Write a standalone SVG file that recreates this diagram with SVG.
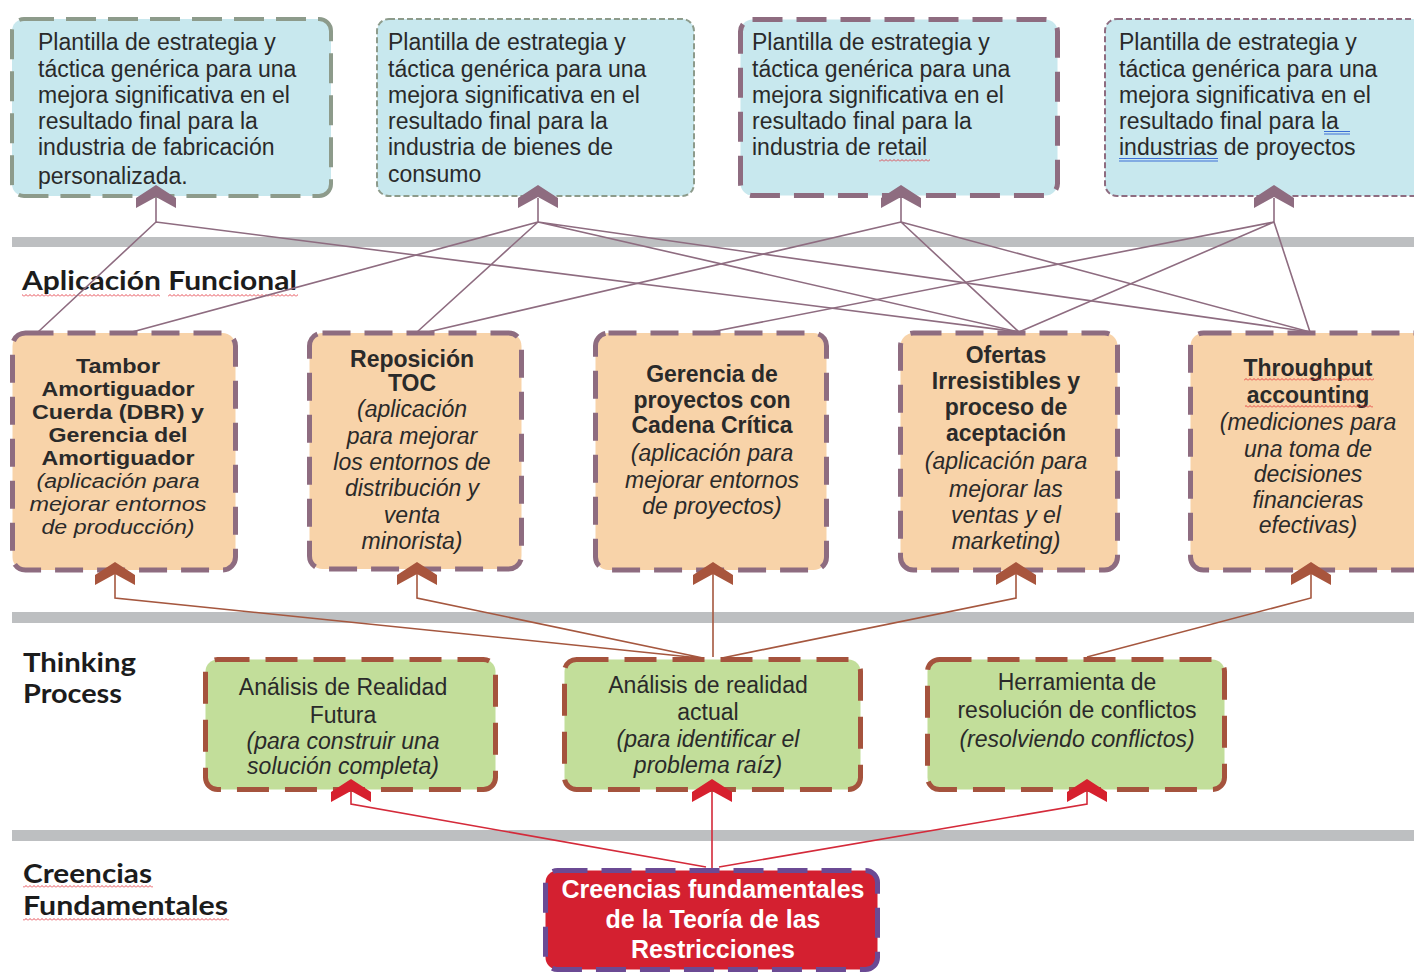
<svg xmlns="http://www.w3.org/2000/svg" width="1414" height="973" viewBox="0 0 1414 973">
<defs>
<style>
.t{font-family:"Liberation Sans",Arial,sans-serif;font-size:23px;fill:#2a2a2a}
.b{font-weight:bold}
.i{font-style:italic}
.c{text-anchor:middle}
.s{font-size:20px}
.lbl{font-family:Lato,"Open Sans",sans-serif;font-weight:bold;font-size:26px;fill:#1c1c1c}
.bar{fill:#bdbfc1}
.top{fill:#c8e8ee}
.fn{fill:#f8d3a9;stroke:#8e6c80;stroke-width:5;stroke-dasharray:28 14}
.tp{fill:#c2de9a;stroke:#a5533d;stroke-width:5;stroke-dasharray:32 16}
.lm{stroke:#8e6c80;stroke-width:1.6;fill:none}
.lb{stroke:#a5573f;stroke-width:1.6;fill:none}
.lr{stroke:#d42a3a;stroke-width:1.6;fill:none}
</style>
<path id="chev" d="M0,0 L20,13 L20,23 L0,12 L-20,23 L-20,13 Z"/>
<pattern id="wave" width="4" height="3" patternUnits="userSpaceOnUse"><path d="M0,2.5 L2,0.5 L4,2.5" fill="none" stroke="#e0202a" stroke-width="0.8"/></pattern>
</defs>
<rect width="1414" height="973" fill="#ffffff"/>

<g id="bars">
<rect class="bar" x="12" y="237" width="1402" height="10"/>
<rect class="bar" x="12" y="612" width="1402" height="11"/>
<rect class="bar" x="12" y="830" width="1402" height="11"/>
</g>

<g id="labels">
<text class="lbl" x="22" y="290" textLength="275" lengthAdjust="spacingAndGlyphs">Aplicación Funcional</text>
<rect x="22" y="294" width="138" height="3" fill="url(#wave)"/>
<rect x="168" y="294" width="130" height="3" fill="url(#wave)"/>
<text class="lbl" x="23" y="672" textLength="113" lengthAdjust="spacingAndGlyphs">Thinking</text>
<text class="lbl" x="23" y="703" textLength="99" lengthAdjust="spacingAndGlyphs">Process</text>
<text class="lbl" x="23" y="883" textLength="129" lengthAdjust="spacingAndGlyphs">Creencias</text>
<rect x="23" y="885" width="130" height="3" fill="url(#wave)"/>
<text class="lbl" x="23" y="915" textLength="205" lengthAdjust="spacingAndGlyphs">Fundamentales</text>
<rect x="23" y="918" width="206" height="3" fill="url(#wave)"/>
</g>

<g id="connectors">
<path class="lm" d="M156,198V222M538,198V222M901,198V222M1274,198V222"/>
<path class="lm" d="M156,222L38,332M156,222L1019,332"/>
<path class="lm" d="M538,222L132,332M538,222L417,332M538,222L1019,332M538,222L1310,332"/>
<path class="lm" d="M901,222L428,332M901,222L1019,332M901,222L1310,332"/>
<path class="lm" d="M1274,222L711,332M1274,222L1019,332M1274,222L1310,332"/>
<path class="lb" d="M115,574V598L700,658M417,574V598L703,658M713,574V657M1016,574V598L722,658M1311,574V598L1087,657"/>
<path class="lr" d="M351,792V804L706,867M712,792V868M1087,792V804L719,867"/>
</g>

<g id="top1">
<rect class="top" x="12" y="19" width="319" height="177" rx="12" stroke="#8d9b8b" stroke-width="4" stroke-dasharray="30 12"/>
<text class="t"><tspan x="38" y="50">Plantilla de estrategia y</tspan><tspan x="38" y="76.5">táctica genérica para una</tspan><tspan x="38" y="103">mejora significativa en el</tspan><tspan x="38" y="129">resultado final para la</tspan><tspan x="38" y="155">industria de fabricación</tspan><tspan x="38" y="184">personalizada.</tspan></text>
<use href="#chev" transform="translate(156,185)" fill="#8e6c80"/>
</g>
<g id="top2">
<rect class="top" x="377" y="19" width="317" height="177" rx="12" stroke="#8d9b8b" stroke-width="2" stroke-dasharray="6 3"/>
<text class="t"><tspan x="388" y="50">Plantilla de estrategia y</tspan><tspan x="388" y="76.5">táctica genérica para una</tspan><tspan x="388" y="103">mejora significativa en el</tspan><tspan x="388" y="129">resultado final para la</tspan><tspan x="388" y="155">industria de bienes de</tspan><tspan x="388" y="182">consumo</tspan></text>
<use href="#chev" transform="translate(538,185)" fill="#8e6c80"/>
</g>
<g id="top3">
<rect class="top" x="740.5" y="19.5" width="317" height="176" rx="12" stroke="#8e6c80" stroke-width="5" stroke-dasharray="30 14"/>
<text class="t"><tspan x="752" y="50">Plantilla de estrategia y</tspan><tspan x="752" y="76.5">táctica genérica para una</tspan><tspan x="752" y="103">mejora significativa en el</tspan><tspan x="752" y="129">resultado final para la</tspan><tspan x="752" y="155">industria de retail</tspan></text>
<rect x="879" y="159" width="51" height="3" fill="url(#wave)"/>
<use href="#chev" transform="translate(901,185)" fill="#8e6c80"/>
</g>
<g id="top4">
<rect class="top" x="1105" y="19" width="330" height="177" rx="12" stroke="#8e6c80" stroke-width="2" stroke-dasharray="6 3"/>
<text class="t"><tspan x="1119" y="50">Plantilla de estrategia y</tspan><tspan x="1119" y="76.5">táctica genérica para una</tspan><tspan x="1119" y="103">mejora significativa en el</tspan><tspan x="1119" y="129">resultado final para la</tspan><tspan x="1119" y="155">industrias de proyectos</tspan></text>
<path d="M1324,131.5H1350M1324,134H1350M1119,158.5H1218M1119,161H1218" stroke="#3c6fd6" stroke-width="1.2"/>
<use href="#chev" transform="translate(1274,185)" fill="#8e6c80"/>
</g>

<g id="fn1">
<rect class="fn" x="12.5" y="333" width="223" height="237" rx="13"/>
<text class="t s c"><tspan class="b" x="118" y="373" textLength="84" lengthAdjust="spacingAndGlyphs">Tambor</tspan><tspan class="b" x="118" y="396" textLength="153" lengthAdjust="spacingAndGlyphs">Amortiguador</tspan><tspan class="b" x="118" y="419" textLength="172" lengthAdjust="spacingAndGlyphs">Cuerda (DBR) y</tspan><tspan class="b" x="118" y="442" textLength="139" lengthAdjust="spacingAndGlyphs">Gerencia del</tspan><tspan class="b" x="118" y="465" textLength="153" lengthAdjust="spacingAndGlyphs">Amortiguador</tspan><tspan class="i" x="118" y="488" textLength="163" lengthAdjust="spacingAndGlyphs">(aplicación para</tspan><tspan class="i" x="118" y="511" textLength="177" lengthAdjust="spacingAndGlyphs">mejorar entornos</tspan><tspan class="i" x="118" y="534" textLength="153" lengthAdjust="spacingAndGlyphs">de producción)</tspan></text>
<use href="#chev" transform="translate(115,562)" fill="#a8553d"/>
</g>
<g id="fn2">
<rect class="fn" x="309.5" y="333" width="212" height="236" rx="13"/>
<text class="t c"><tspan class="b" x="412" y="367">Reposición</tspan><tspan class="b" x="412" y="391">TOC</tspan><tspan class="i" x="412" y="417">(aplicación</tspan><tspan class="i" x="412" y="444">para mejorar</tspan><tspan class="i" x="412" y="470">los entornos de</tspan><tspan class="i" x="412" y="496">distribución y</tspan><tspan class="i" x="412" y="523">venta</tspan><tspan class="i" x="412" y="549">minorista)</tspan></text>
<use href="#chev" transform="translate(417,562)" fill="#a8553d"/>
</g>
<g id="fn3">
<rect class="fn" x="595.5" y="333" width="231" height="237" rx="13"/>
<text class="t c"><tspan class="b" x="712" y="382">Gerencia de</tspan><tspan class="b" x="712" y="408">proyectos con</tspan><tspan class="b" x="712" y="433">Cadena Crítica</tspan><tspan class="i" x="712" y="461">(aplicación para</tspan><tspan class="i" x="712" y="488">mejorar entornos</tspan><tspan class="i" x="712" y="514">de proyectos)</tspan></text>
<use href="#chev" transform="translate(713,562)" fill="#a8553d"/>
</g>
<g id="fn4">
<rect class="fn" x="900.5" y="333" width="217" height="237" rx="13"/>
<text class="t c"><tspan class="b" x="1006" y="363">Ofertas</tspan><tspan class="b" x="1006" y="389">Irresistibles y</tspan><tspan class="b" x="1006" y="415">proceso de</tspan><tspan class="b" x="1006" y="441">aceptación</tspan><tspan class="i" x="1006" y="469">(aplicación para</tspan><tspan class="i" x="1006" y="497">mejorar las</tspan><tspan class="i" x="1006" y="523">ventas y el</tspan><tspan class="i" x="1006" y="549">marketing)</tspan></text>
<use href="#chev" transform="translate(1016,562)" fill="#a8553d"/>
</g>
<g id="fn5">
<rect class="fn" x="1190.5" y="333" width="260" height="237" rx="13"/>
<text class="t c"><tspan class="b" x="1308" y="376">Throughput</tspan><tspan class="b" x="1308" y="403">accounting</tspan><tspan class="i" x="1308" y="430">(mediciones para</tspan><tspan class="i" x="1308" y="457">una toma de</tspan><tspan class="i" x="1308" y="482">decisiones</tspan><tspan class="i" x="1308" y="508">financieras</tspan><tspan class="i" x="1308" y="533">efectivas)</tspan></text>
<rect x="1244" y="378" width="130" height="3" fill="url(#wave)"/>
<rect x="1245" y="405" width="128" height="3" fill="url(#wave)"/>
<use href="#chev" transform="translate(1311,562)" fill="#a8553d"/>
</g>

<g id="tp1">
<rect class="tp" x="205.5" y="659.5" width="290" height="130" rx="12"/>
<text class="t c"><tspan x="343" y="695">Análisis de Realidad</tspan><tspan x="343" y="723">Futura</tspan><tspan class="i" x="343" y="749">(para construir una</tspan><tspan class="i" x="343" y="774">solución completa)</tspan></text>
<use href="#chev" transform="translate(351,779)" fill="#d6202e"/>
</g>
<g id="tp2">
<rect class="tp" x="564.5" y="659.5" width="296" height="130" rx="12"/>
<text class="t c"><tspan x="708" y="693">Análisis de realidad</tspan><tspan x="708" y="720">actual</tspan><tspan class="i" x="708" y="747">(para identificar el</tspan><tspan class="i" x="708" y="773">problema raíz)</tspan></text>
<use href="#chev" transform="translate(712,779)" fill="#d6202e"/>
</g>
<g id="tp3">
<rect class="tp" x="927.5" y="659.5" width="297" height="130" rx="12"/>
<text class="t c"><tspan x="1077" y="690">Herramienta de</tspan><tspan x="1077" y="718">resolución de conflictos</tspan><tspan class="i" x="1077" y="747">(resolviendo conflictos)</tspan></text>
<use href="#chev" transform="translate(1087,779)" fill="#d6202e"/>
</g>

<g id="core">
<rect x="545.5" y="870.5" width="332" height="99" rx="12" fill="#d42030" stroke="#6b4a94" stroke-width="5" stroke-dasharray="30 14"/>
<text class="t b c" style="font-size:25px;fill:#ffffff"><tspan x="713" y="898">Creencias fundamentales</tspan><tspan x="713" y="928">de la Teoría de las</tspan><tspan x="713" y="958">Restricciones</tspan></text>
</g>
</svg>
